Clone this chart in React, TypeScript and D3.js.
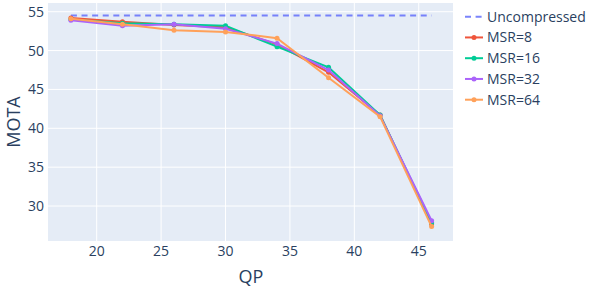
import React from 'react';
import * as d3 from 'd3';

const qp = [18, 22, 26, 30, 34, 38, 42, 46];
const uncompressed = 54.5;
const msr8 = [54.2, 53.7, 53.3, 53.0, 50.8, 47.2, 41.7, 27.7];
const msr16 = [54.0, 53.5, 53.4, 53.2, 50.5, 47.85, 41.7, 27.85];
const msr32 = [53.9, 53.2, 53.4, 52.8, 50.9, 47.5, 41.6, 28.1];
const msr64 = [54.1, 53.4, 52.6, 52.4, 51.6, 46.5, 41.5, 27.35];

const xTicks = [20, 25, 30, 35, 40, 45];
const yTicks = [30, 35, 40, 45, 50, 55];

const series = [
  { name: 'MSR=8', values: msr8, color: '#EF553B' },
  { name: 'MSR=16', values: msr16, color: '#00cc96' },
  { name: 'MSR=32', values: msr32, color: '#ab63fa' },
  { name: 'MSR=64', values: msr64, color: '#FFA15A' },
];

const W = 598;
const H = 289;
const plot = { left: 48, right: 453, top: 3, bottom: 241 };
const font = '"Open Sans", "Noto Sans", sans-serif';
const textColor = '#2a3f5f';

export default function App() {
  const x = d3.scaleLinear().domain([16.22, 47.66]).range([plot.left, plot.right]);
  const y = d3.scaleLinear().domain([25.5, 56.12]).range([plot.bottom, plot.top]);
  const line = d3
    .line<[number, number]>()
    .x(d => x(d[0]))
    .y(d => y(d[1]));

  const legendX = 465;
  const legendY = 16.7;
  const legendStep = 20.75;
  const legendItems = [{ name: 'Uncompressed', color: '#636efa', dashed: true }].concat(
    series.map(s => ({ name: s.name, color: s.color, dashed: false }))
  );

  return (
    <svg
      width={W}
      height={H}
      style={{ position: 'absolute', left: 0, top: 0, fontFamily: font }}
    >
      <rect x={0} y={0} width={W} height={H} fill="#fff" />
      <rect
        x={plot.left}
        y={plot.top}
        width={plot.right - plot.left}
        height={plot.bottom - plot.top}
        fill="#E5ECF6"
      />
      {xTicks.map(t => (
        <line key={'gx' + t} x1={x(t)} x2={x(t)} y1={plot.top} y2={plot.bottom} stroke="#fff" strokeWidth={1} />
      ))}
      {yTicks.map(t => (
        <line key={'gy' + t} x1={plot.left} x2={plot.right} y1={y(t)} y2={y(t)} stroke="#fff" strokeWidth={1} />
      ))}
      {xTicks.map(t => (
        <text key={'tx' + t} x={x(t)} y={plot.bottom + 14.5} fontSize={14} fill={textColor} textAnchor="middle">
          {t}
        </text>
      ))}
      {yTicks.map(t => (
        <text key={'ty' + t} x={44} y={y(t) + 5} fontSize={14} fill={textColor} textAnchor="end">
          {t}
        </text>
      ))}
      <text x={251} y={283} fontSize={18} fill={textColor} textAnchor="middle">
        QP
      </text>
      <text
        transform={`translate(20, ${(plot.top + plot.bottom) / 2}) rotate(-90)`}
        fontSize={18}
        fill={textColor}
        textAnchor="middle"
      >
        MOTA
      </text>

      <path
        d={line([[qp[0], uncompressed], [qp[qp.length - 1], uncompressed]]) || ''}
        fill="none"
        stroke="#636efa"
        strokeOpacity={0.85}
        strokeWidth={2}
        strokeDasharray="6,4.6"
      />
      {series.map(s => (
        <g key={s.name}>
          <path
            d={line(qp.map((q, i) => [q, s.values[i]] as [number, number])) || ''}
            fill="none"
            stroke={s.color}
            strokeWidth={2}
          />
          {qp.map((q, i) => (
            <circle key={q} cx={x(q)} cy={y(s.values[i])} r={2.5} fill={s.color} />
          ))}
        </g>
      ))}

      {legendItems.map((item, i) => {
        const cy = legendY + i * legendStep;
        return (
          <g key={item.name}>
            <line
              x1={legendX}
              x2={legendX + 18}
              y1={cy}
              y2={cy}
              stroke={item.color}
              strokeWidth={2}
              strokeOpacity={item.dashed ? 0.85 : 1}
              strokeDasharray={item.dashed ? '6,4.6' : undefined}
            />
            {!item.dashed && <circle cx={legendX + 9} cy={cy} r={2.5} fill={item.color} />}
            <text x={legendX + 22} y={cy + 5} fontSize={14} fill={textColor}>
              {item.name}
            </text>
          </g>
        );
      })}
    </svg>
  );
}
